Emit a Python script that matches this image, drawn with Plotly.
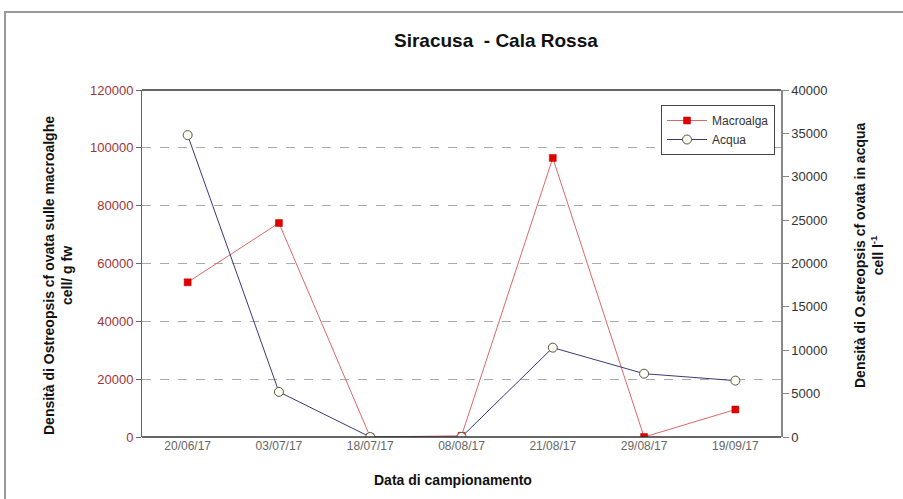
import plotly.graph_objects as go

dates = ["20/06/17", "03/07/17", "18/07/17", "08/08/17", "21/08/17", "29/08/17", "19/09/17"]
macroalga = [53500, 74000, 0, 400, 96500, 0, 9500]
acqua = [34800, 5200, 0, 0, 10300, 7300, 6500]
left_ticks = [0, 20000, 40000, 60000, 80000, 100000, 120000]
right_ticks = [0, 5000, 10000, 15000, 20000, 25000, 30000, 35000, 40000]

W, H = 903, 499
L, R, T, B = 142, 781, 90, 437

def px(x):
    return (x - L) / (R - L)

def py(y):
    return (B - y) / (B - T)

xs = list(range(len(dates)))
font = "Liberation Sans, Arial, sans-serif"

fig = go.Figure()
fig.add_trace(go.Scatter(
    x=xs, y=macroalga, name="Macroalga", mode="lines+markers",
    line=dict(color="#E06666", width=1),
    marker=dict(symbol="square", size=7, color="#E00000", line=dict(color="#C00000", width=0.5)),
    yaxis="y",
))
fig.add_trace(go.Scatter(
    x=xs, y=acqua, name="Acqua", mode="lines+markers",
    line=dict(color="#3A3A78", width=1),
    marker=dict(symbol="circle", size=9, color="#FFFFF4", line=dict(color="#555544", width=1)),
    yaxis="y2",
))

fig.update_layout(
    width=W, height=H,
    margin=dict(l=L, r=W - R, t=T, b=H - B, autoexpand=False),
    paper_bgcolor="white", plot_bgcolor="white",
    showlegend=True,
    legend=dict(
        x=px(661), y=py(105), xanchor="left", yanchor="top",
        bgcolor="white", bordercolor="#444", borderwidth=1,
        font=dict(family=font, size=12, color="#333"),
        itemwidth=40, tracegroupgap=2,
    ),
    xaxis=dict(
        range=[-0.5, 6.5],
        tickmode="array", tickvals=xs, ticktext=dates,
        showgrid=False, zeroline=False, showline=False, automargin=False,
        ticks="", tickfont=dict(family=font, size=12, color="#666"),
    ),
    yaxis=dict(
        range=[0, 120000], tickmode="array", tickvals=left_ticks, tickformat="d",
        showgrid=True, gridcolor="#AAAAAA", griddash="dash", gridwidth=1,
        zeroline=False, showline=True, linecolor="#666", linewidth=1, automargin=False,
        ticks="outside", ticklen=5, tickcolor="#666",
        tickfont=dict(family=font, size=13, color="#A03535"),
        title=None,
    ),
    yaxis2=dict(
        range=[0, 40000], overlaying="y", side="right",
        tickmode="array", tickvals=right_ticks, tickformat="d",
        showgrid=False, zeroline=False, showline=True, linecolor="#888", linewidth=1.5,
        automargin=False,
        ticks="outside", ticklen=6, tickcolor="#888",
        tickfont=dict(family=font, size=13, color="#333"),
        title=None,
    ),
)

annotations = [
    dict(text="<b>Siracusa  - Cala Rossa</b>", x=px(496), y=py(41), xref="paper", yref="paper",
         showarrow=False, font=dict(family=font, size=19, color="#111"), xanchor="center", yanchor="middle"),
    dict(text="<b>Data di campionamento</b>", x=px(453), y=py(480), xref="paper", yref="paper",
         showarrow=False, font=dict(family=font, size=14, color="#111"), xanchor="center", yanchor="middle"),
    dict(text="<b>Densità di Ostreopsis cf ovata sulle macroalghe<br>cell/ g fw</b>", x=px(58), y=py(276),
         xref="paper", yref="paper", showarrow=False, textangle=-90,
         font=dict(family=font, size=14, color="#111"), xanchor="center", yanchor="middle"),
    dict(text="<b>Densità di O.streopsis cf ovata in acqua<br>cell l<sup>-1</sup></b>", x=px(869), y=py(255),
         xref="paper", yref="paper", showarrow=False, textangle=-90,
         font=dict(family=font, size=14, color="#111"), xanchor="center", yanchor="middle"),
]
fig.update_layout(annotations=annotations)

shapes = [
    dict(type="rect", xref="paper", yref="paper", x0=px(5), x1=px(915), y0=py(520), y1=py(12),
         line=dict(color="#999", width=2), layer="below"),
    dict(type="line", xref="paper", yref="paper", x0=0, x1=1, y0=1, y1=1,
         line=dict(color="#333", width=1.5)),
    dict(type="line", xref="paper", yref="paper", x0=0, x1=1, y0=0, y1=0,
         line=dict(color="#333", width=1.5)),
]
fig.update_layout(shapes=shapes)

fig.write_html("out.html", config={"displayModeBar": False},
               post_script="document.body.style.margin='0';document.body.style.overflow='hidden';")
